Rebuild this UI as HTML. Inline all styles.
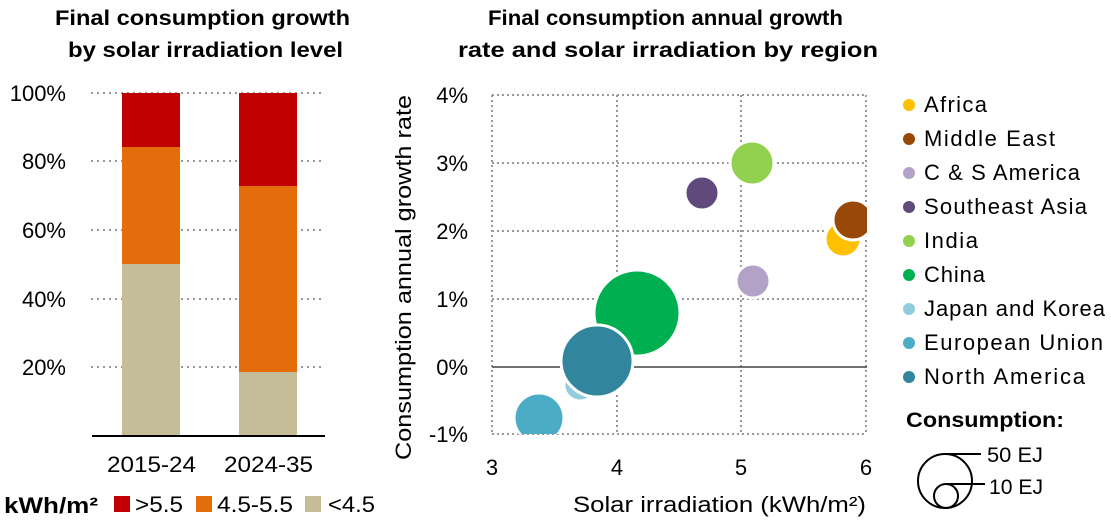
<!DOCTYPE html>
<html><head><meta charset="utf-8"><style>
html,body{margin:0;padding:0;background:#fff;}
svg{display:block;font-family:"Liberation Sans",sans-serif;}
</style></head><body>
<svg width="1111" height="529" viewBox="0 0 1111 529" xmlns="http://www.w3.org/2000/svg">
<defs><clipPath id="pc"><rect x="492" y="90" width="375" height="344"/></clipPath></defs>
<text x="55" y="25" font-size="21" font-weight="bold" textLength="295" lengthAdjust="spacingAndGlyphs">Final consumption growth</text>
<text x="68" y="57" font-size="21" font-weight="bold" textLength="275" lengthAdjust="spacingAndGlyphs">by solar irradiation level</text>
<g stroke="#999" stroke-width="2" stroke-dasharray="2,4">
<line x1="91" y1="93" x2="323" y2="93"/>
<line x1="91" y1="161" x2="323" y2="161"/>
<line x1="91" y1="230" x2="323" y2="230"/>
<line x1="91" y1="299" x2="323" y2="299"/>
<line x1="91" y1="367" x2="323" y2="367"/>
</g>
<g font-size="22" text-anchor="end">
<text x="66" y="101">100%</text>
<text x="66" y="169">80%</text>
<text x="66" y="238">60%</text>
<text x="66" y="307">40%</text>
<text x="66" y="375">20%</text>
</g>
<rect x="122" y="264" width="58" height="172" fill="#c4bd97"/>
<rect x="122" y="147" width="58" height="117" fill="#e46c0a"/>
<rect x="122" y="93" width="58" height="54" fill="#c00000"/>
<rect x="239" y="372" width="58" height="64" fill="#c4bd97"/>
<rect x="239" y="186" width="58" height="186" fill="#e46c0a"/>
<rect x="239" y="93" width="58" height="93" fill="#c00000"/>
<line x1="92" y1="436" x2="325" y2="436" stroke="#000" stroke-width="2"/>
<text x="107" y="472" font-size="22" textLength="89" lengthAdjust="spacingAndGlyphs">2015-24</text>
<text x="224" y="472" font-size="22" textLength="89" lengthAdjust="spacingAndGlyphs">2024-35</text>
<text x="4" y="513" font-size="22" font-weight="bold" textLength="94" lengthAdjust="spacingAndGlyphs">kWh/m²</text>
<rect x="114" y="496" width="16" height="16" fill="#c00000"/>
<text x="135" y="512" font-size="22" textLength="48" lengthAdjust="spacingAndGlyphs">&gt;5.5</text>
<rect x="196" y="496" width="16" height="16" fill="#e46c0a"/>
<text x="217" y="512" font-size="22" textLength="76" lengthAdjust="spacingAndGlyphs">4.5-5.5</text>
<rect x="305" y="496" width="16" height="16" fill="#c4bd97"/>
<text x="328" y="512" font-size="22" textLength="47" lengthAdjust="spacingAndGlyphs">&lt;4.5</text>
<text x="488" y="25" font-size="21" font-weight="bold" textLength="355" lengthAdjust="spacingAndGlyphs">Final consumption annual growth</text>
<text x="458" y="57" font-size="21" font-weight="bold" textLength="420" lengthAdjust="spacingAndGlyphs">rate and solar irradiation by region</text>
<g stroke="#999" stroke-width="2" stroke-dasharray="2,3">
<line x1="492" y1="95" x2="867" y2="95"/>
<line x1="492" y1="163" x2="867" y2="163"/>
<line x1="492" y1="231" x2="867" y2="231"/>
<line x1="492" y1="299" x2="867" y2="299"/>
<line x1="492" y1="434" x2="867" y2="434"/>
<line x1="492" y1="95" x2="492" y2="434"/>
<line x1="617" y1="95" x2="617" y2="434"/>
<line x1="741" y1="95" x2="741" y2="434"/>
<line x1="866" y1="95" x2="866" y2="434"/>
</g>
<line x1="492" y1="367" x2="867" y2="367" stroke="#444" stroke-width="1.5"/>
<g font-size="22" text-anchor="end">
<text x="468" y="103">4%</text>
<text x="468" y="171">3%</text>
<text x="468" y="239">2%</text>
<text x="468" y="307">1%</text>
<text x="468" y="375">0%</text>
<text x="468" y="442">-1%</text>
</g>
<g font-size="22" text-anchor="middle">
<text x="492" y="475">3</text>
<text x="617" y="475">4</text>
<text x="741" y="475">5</text>
<text x="866" y="475">6</text>
</g>
<text x="573" y="512" font-size="22" textLength="293" lengthAdjust="spacingAndGlyphs">Solar irradiation (kWh/m²)</text>
<text transform="translate(411,460) rotate(-90)" font-size="22" textLength="365" lengthAdjust="spacingAndGlyphs">Consumption annual growth rate</text>
<g clip-path="url(#pc)" stroke="#fff" stroke-width="3">
<circle cx="752" cy="163" r="22" fill="#92d050"/>
<circle cx="702" cy="193" r="17" fill="#604a7b"/>
<circle cx="843" cy="239" r="18" fill="#ffc000"/>
<circle cx="853" cy="220" r="20" fill="#984807"/>
<circle cx="753" cy="281" r="17" fill="#b3a2c7"/>
<circle cx="637" cy="313" r="43" fill="#00b050"/>
<circle cx="539" cy="418" r="25" fill="#4bacc6"/>
<circle cx="580" cy="385" r="16" fill="#93cddd"/>
<circle cx="597" cy="361" r="36" fill="#31859c"/>
</g>
<g font-size="22" lengthAdjust="spacingAndGlyphs">
<circle cx="909" cy="105" r="6" fill="#ffc000"/><text x="924" y="112" textLength="63">Africa</text>
<circle cx="909" cy="139" r="6" fill="#984807"/><text x="924" y="146" textLength="131">Middle East</text>
<circle cx="909" cy="173" r="6" fill="#b3a2c7"/><text x="924" y="180" textLength="156">C &amp; S America</text>
<circle cx="909" cy="207" r="6" fill="#604a7b"/><text x="924" y="214" textLength="163">Southeast Asia</text>
<circle cx="909" cy="241" r="6" fill="#92d050"/><text x="924" y="248" textLength="54">India</text>
<circle cx="909" cy="275" r="6" fill="#00b050"/><text x="924" y="282" textLength="61">China</text>
<circle cx="909" cy="309" r="6" fill="#93cddd"/><text x="924" y="316" textLength="181">Japan and Korea</text>
<circle cx="909" cy="343" r="6" fill="#4bacc6"/><text x="924" y="350" textLength="179">European Union</text>
<circle cx="909" cy="377" r="6" fill="#31859c"/><text x="924" y="384" textLength="161">North America</text>
</g>
<text x="906" y="427" font-size="21" font-weight="bold" textLength="158" lengthAdjust="spacingAndGlyphs">Consumption:</text>
<circle cx="945" cy="481" r="27" fill="none" stroke="#000" stroke-width="2"/>
<circle cx="946" cy="496" r="12" fill="none" stroke="#000" stroke-width="2"/>
<line x1="945" y1="454" x2="981" y2="454" stroke="#000" stroke-width="2"/>
<line x1="945" y1="484" x2="985" y2="484" stroke="#000" stroke-width="2"/>
<text x="987" y="462" font-size="21" textLength="56" lengthAdjust="spacingAndGlyphs">50 EJ</text>
<text x="989" y="494" font-size="21" textLength="54" lengthAdjust="spacingAndGlyphs">10 EJ</text>
</svg>
</body></html>
